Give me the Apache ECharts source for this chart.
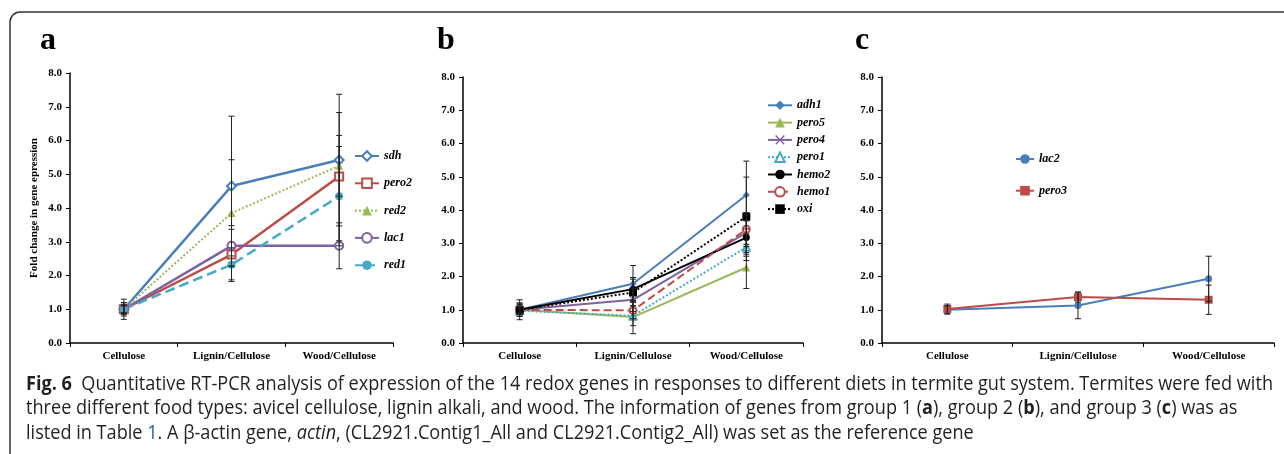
<!DOCTYPE html>
<html>
<head>
<meta charset="utf-8">
<script src="https://cdn.jsdelivr.net/npm/echarts@6/dist/echarts.min.js"></script>
<style>
    html, body { margin: 0; padding: 0; background: #fff; }
    #main { width: 1284px; height: 454px; }
</style>
</head>
<body>
<div id="main"></div>
<script>
// 数据
var categories = ['Cellulose', 'Lignin/Cellulose', 'Wood/Cellulose'];
var yTicks = [0, 1, 2, 3, 4, 5, 6, 7, 8];

// group 1 (a)
var sdh = [1.0, 4.65, 5.42];
var sdhErr = [0.3, 2.07, 1.95];
var pero2 = [1.0, 2.62, 4.93];
var pero2Err = [0.2, 0.75, 1.9];
var red2 = [1.0, 3.85, 5.25];
var red2Err = [0.15, 1.58, 0.9];
var lac1 = [1.0, 2.88, 2.88];
var lac1Err = [0.12, 0.6, 0.68];
var red1 = [1.0, 2.32, 4.35];
var red1Err = [0.1, 0.5, 1.47];

// group 2 (b)
var adh1 = [1.0, 1.78, 4.45];
var adh1Err = [0.3, 0.55, 1.02];
var pero5 = [1.0, 0.78, 2.27];
var pero5Err = [0.2, 0.5, 0.63];
var pero4 = [1.0, 1.3, 3.32];
var pero4Err = [0.15, 0.35, 0.6];
var pero1 = [0.97, 0.82, 2.88];
var pero1Err = [0.1, 0.3, 0.4];
var hemo2 = [1.0, 1.62, 3.17];
var hemo2Err = [0.15, 0.35, 0.5];
var hemo1 = [1.0, 0.98, 3.42];
var hemo1Err = [0.1, 0.25, 0.45];
var oxi = [1.0, 1.52, 3.8];
var oxiErr = [0.2, 0.4, 1.19];

// group 3 (c)
var lac2 = [1.0, 1.13, 1.93];
var lac2Err = [0.12, 0.4, 0.68];
var pero3 = [1.02, 1.38, 1.3];
var pero3Err = [0.15, 0.15, 0.44];

var serifFont = '"Liberation Serif", "Times New Roman", serif';
var capFont = '"Open Sans", "Noto Sans", sans-serif';

// 坐标轴
function makeXAxis(gi) {
    return {
        type: 'category',
        gridIndex: gi,
        data: categories,
        axisLine: { lineStyle: { color: '#000', width: 1.5 } },
        axisTick: { show: true, length: 4, lineStyle: { color: '#000' } },
        axisLabel: {
            color: '#000', fontFamily: serifFont, fontWeight: 'bold', fontSize: 11, margin: 8
        }
    };
}
function makeYAxis(gi, name) {
    return {
        type: 'value',
        gridIndex: gi,
        min: yTicks[0],
        max: yTicks[yTicks.length - 1],
        interval: 1,
        name: name || '',
        nameLocation: 'middle',
        nameGap: 30,
        nameTextStyle: { color: '#000', fontFamily: serifFont, fontWeight: 'bold', fontSize: 11 },
        splitLine: { show: false },
        axisLine: { show: true, lineStyle: { color: '#000', width: 1.5 } },
        axisTick: { show: true, length: 4, lineStyle: { color: '#000' } },
        axisLabel: {
            color: '#000', fontFamily: serifFont, fontWeight: 'bold', fontSize: 11, margin: 8,
            formatter: function (v) { return v.toFixed(1); }
        }
    };
}

// 折线
function lineSeries(name, gi, values, color, type, symbol, size, width) {
    return {
        name: name,
        type: 'line',
        xAxisIndex: gi,
        yAxisIndex: gi,
        data: values,
        symbol: symbol,
        symbolSize: size,
        z: 2,
        lineStyle: { color: color, width: width || 2, type: type },
        itemStyle: { color: color, borderWidth: 1 },
        emphasis: { disabled: true }
    };
}

// 误差线
function errorSeries(gi, values, errs) {
    var d = [];
    for (var i = 0; i < values.length; i++) {
        d.push([i, values[i], errs[i]]);
    }
    return {
        type: 'custom',
        xAxisIndex: gi,
        yAxisIndex: gi,
        z: 3,
        silent: true,
        encode: { x: 0, y: 1 },
        data: d,
        renderItem: function (params, api) {
            var i = api.value(0), v = api.value(1), e = api.value(2);
            var hi = api.coord([i, v + e]);
            var lo = api.coord([i, v - e]);
            var w = 3;
            var st = { stroke: '#222', lineWidth: 1 };
            return {
                type: 'group',
                children: [
                    { type: 'line', shape: { x1: hi[0], y1: hi[1], x2: lo[0], y2: lo[1] }, style: st },
                    { type: 'line', shape: { x1: hi[0] - w, y1: hi[1], x2: hi[0] + w, y2: hi[1] }, style: st },
                    { type: 'line', shape: { x1: lo[0] - w, y1: lo[1], x2: lo[0] + w, y2: lo[1] }, style: st }
                ]
            };
        }
    };
}

function legendOf(names, left, top, gap, w) {
    return {
        data: names,
        orient: 'vertical',
        left: left,
        top: top,
        padding: 0,
        itemGap: gap,
        itemWidth: w,
        itemHeight: 12,
        selectedMode: false,
        textStyle: {
            color: '#000', fontFamily: serifFont, fontWeight: 'bold', fontStyle: 'italic',
            fontSize: 12, lineHeight: 12
        }
    };
}

var xPath = 'path://M0,1L1,0L5,4L9,0L10,1L6,5L10,9L9,10L5,6L1,10L0,9L4,5Z';

// 图注
var captionLines = [
    [['b', 'Fig. 6'], ['n', '  Quantitative RT-PCR analysis of expression of the 14 redox genes in responses to different diets in termite gut system. Termites were fed with']],
    [['n', 'three different food types: avicel cellulose, lignin alkali, and wood. The information of genes from group 1 ('], ['b', 'a'], ['n', '), group 2 ('], ['b', 'b'], ['n', '), and group 3 ('], ['b', 'c'], ['n', ') was as']],
    [['n', 'listed in Table '], ['u', '1'], ['n', '. A \u03b2-actin gene, '], ['i', 'actin'], ['n', ', (CL2921.Contig1_All and CL2921.Contig2_All) was set as the reference gene']]
];
var capSize = 20;
var capStyles = {
    n: { font: capSize + 'px ' + capFont, color: '#231f20' },
    b: { font: 'bold ' + capSize + 'px ' + capFont, color: '#231f20' },
    i: { font: 'italic ' + capSize + 'px ' + capFont, color: '#231f20' },
    u: { font: capSize + 'px ' + capFont, color: '#2a5db0' }
};

function chartsRender() {
    var chart = echarts.init(document.getElementById('main'));

    // 用 canvas 量图注宽度
    var ctx = document.createElement('canvas').getContext('2d');
    function lineWidth(segs) {
        var w = 0;
        for (var k = 0; k < segs.length; k++) {
            ctx.font = capStyles[segs[k][0]].font;
            w += ctx.measureText(segs[k][1]).width;
        }
        return w;
    }
    var capScale = (1273 - 26) / lineWidth(captionLines[0]);
    var rich = {};
    for (var key in capStyles) {
        rich[key] = { font: capStyles[key].font, fill: capStyles[key].color };
    }
    var capY = [384, 408.5, 433];
    var graphics = [];
    for (var j = 0; j < captionLines.length; j++) {
        var str = captionLines[j].map(function (s) {
            return '{' + s[0] + '|' + s[1] + '}';
        }).join('');
        graphics.push({
            type: 'text',
            x: 26,
            y: capY[j],
            scaleX: capScale,
            style: {
                text: str,
                rich: rich,
                textAlign: 'left',
                textVerticalAlign: 'middle',
                align: 'left',
                verticalAlign: 'middle'
            }
        });
    }
    // 面板字母
    var letters = [['a', 40], ['b', 437], ['c', 855]];
    letters.forEach(function (l) {
        graphics.push({
            type: 'text',
            x: l[1],
            y: 41,
            style: {
                text: l[0],
                font: 'bold 32px ' + serifFont,
                fill: '#000',
                textVerticalAlign: 'middle',
                verticalAlign: 'middle'
            }
        });
    });
    // 外框 (左上圆角)
    graphics.push({
        type: 'rect',
        silent: true,
        shape: { x: 10, y: 12, width: 1400, height: 600, r: [10, 0, 0, 0] },
        style: { stroke: '#333', lineWidth: 1.5, fill: 'none' }
    });

    var option = {
        animation: false,
        backgroundColor: '#fff',
        grid: [
            { left: 70, top: 73, width: 323, height: 270 },
            { left: 463, top: 77, width: 340, height: 266 },
            { left: 882, top: 77, width: 392, height: 266 }
        ],
        xAxis: [makeXAxis(0), makeXAxis(1), makeXAxis(2)],
        yAxis: [makeYAxis(0, 'Fold change in gene epression'), makeYAxis(1), makeYAxis(2)],
        legend: [
            legendOf(['sdh', 'pero2', 'red2', 'lac1', 'red1'], 354, 150, 15.3, 24),
            legendOf(['adh1', 'pero5', 'pero4', 'pero1', 'hemo2', 'hemo1', 'oxi'], 767, 99.3, 5.3, 24),
            legendOf(['lac2', 'pero3'], 1015, 153, 19.7, 18)
        ],
        graphic: graphics,
        series: [
            lineSeries('sdh', 0, sdh, '#4a7ebb', 'solid', 'emptyDiamond', 9, 2.5),
            lineSeries('pero2', 0, pero2, '#be4b48', 'solid', 'emptyRect', 8, 2.5),
            lineSeries('red2', 0, red2, '#98b954', 'dotted', 'triangle', 8, 2),
            lineSeries('lac1', 0, lac1, '#7d60a0', 'solid', 'emptyCircle', 8, 2.5),
            lineSeries('red1', 0, red1, '#46aac5', 'dashed', 'circle', 8, 2.5),
            errorSeries(0, sdh, sdhErr),
            errorSeries(0, pero2, pero2Err),
            errorSeries(0, red2, red2Err),
            errorSeries(0, lac1, lac1Err),
            errorSeries(0, red1, red1Err),

            lineSeries('adh1', 1, adh1, '#4a7ebb', 'solid', 'diamond', 7, 2),
            lineSeries('pero5', 1, pero5, '#98b954', 'solid', 'triangle', 8, 2),
            lineSeries('pero4', 1, pero4, '#7d60a0', 'solid', xPath, 7, 2),
            lineSeries('pero1', 1, pero1, '#46aac5', 'dotted', 'emptyTriangle', 7, 2),
            lineSeries('hemo2', 1, hemo2, '#000000', 'solid', 'circle', 7, 2),
            lineSeries('hemo1', 1, hemo1, '#be4b48', 'dashed', 'emptyCircle', 7, 2),
            lineSeries('oxi', 1, oxi, '#000000', 'dotted', 'rect', 8, 2),
            errorSeries(1, adh1, adh1Err),
            errorSeries(1, pero5, pero5Err),
            errorSeries(1, pero4, pero4Err),
            errorSeries(1, pero1, pero1Err),
            errorSeries(1, hemo2, hemo2Err),
            errorSeries(1, hemo1, hemo1Err),
            errorSeries(1, oxi, oxiErr),

            lineSeries('lac2', 2, lac2, '#4a7ebb', 'solid', 'circle', 7, 2),
            lineSeries('pero3', 2, pero3, '#be4b48', 'solid', 'rect', 8, 2),
            errorSeries(2, lac2, lac2Err),
            errorSeries(2, pero3, pero3Err)
        ]
    };
    chart.setOption(option);
}
chartsRender();
</script>
</body>
</html>
